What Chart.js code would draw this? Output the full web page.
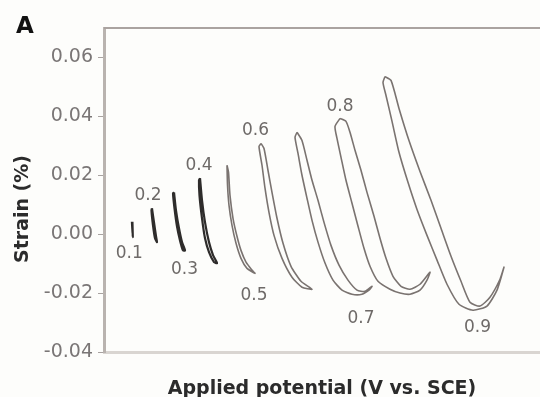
<!DOCTYPE html>
<html>
<head>
<meta charset="utf-8">
<script src="https://cdn.jsdelivr.net/npm/chart.js@4/dist/chart.umd.min.js"></script>
<style>
  html, body { margin: 0; padding: 0; background: #fdfdfb; }
  #c { display: block; }
</style>
</head>
<body>
<canvas id="c" width="540" height="397"></canvas>
<script>
// ---- Data (x: arbitrary time-like position 0..100, y: strain in %) ----
const loop01 = [[6.40,0.0042],[6.60,-0.0010],[6.52,0.0042]];
const loop02 = [[11.00,0.0088],[11.47,0.0040],[11.93,-0.0007],[12.16,-0.0027],[11.70,-0.0014],[11.24,0.0030],[10.89,0.0081],[11.00,0.0088]];
const loop03 = [[16.06,0.0142],[16.51,0.0081],[17.20,0.0020],[17.89,-0.0027],[18.58,-0.0055],[18.12,-0.0055],[17.43,-0.0021],[16.74,0.0027],[16.17,0.0088],[15.83,0.0139],[16.06,0.0142]];
const loop04 = [[22.02,0.0190],[22.48,0.0115],[23.17,0.0040],[24.08,-0.0027],[25.00,-0.0071],[25.92,-0.0098],[25.23,-0.0095],[24.08,-0.0061],[23.17,-0.0014],[22.48,0.0054],[21.90,0.0132],[21.79,0.0183],[22.02,0.0190]];
const loop05 = [[28.21,0.0234],[28.33,0.0166],[28.67,0.0098],[29.36,0.0030],[30.28,-0.0031],[31.42,-0.0082],[32.80,-0.0116],[34.63,-0.0133],[33.94,-0.0122],[32.57,-0.0095],[31.42,-0.0055],[30.50,-0.0007],[29.59,0.0054],[28.90,0.0132],[28.56,0.0210],[28.21,0.0234]];
const loop06 = [[36.01,0.0308],[36.70,0.0291],[37.61,0.0217],[38.53,0.0142],[39.68,0.0054],[41.06,-0.0031],[42.89,-0.0109],[45.18,-0.0160],[47.71,-0.0187],[45.41,-0.0180],[43.12,-0.0146],[40.83,-0.0082],[38.99,-0.0004],[37.84,0.0074],[36.93,0.0156],[36.24,0.0234],[35.55,0.0298],[36.01,0.0308]];
const loop07 = [[44.27,0.0346],[45.41,0.0318],[46.56,0.0251],[47.71,0.0183],[49.08,0.0115],[50.46,0.0040],[52.06,-0.0038],[53.90,-0.0105],[55.96,-0.0156],[58.03,-0.0190],[59.86,-0.0194],[61.47,-0.0177],[60.78,-0.0190],[59.17,-0.0204],[56.88,-0.0204],[54.59,-0.0190],[52.52,-0.0156],[50.69,-0.0098],[49.08,-0.0027],[47.71,0.0047],[46.56,0.0122],[45.41,0.0200],[44.50,0.0274],[43.81,0.0329],[44.27,0.0346]];
const loop08 = [[54.13,0.0393],[55.50,0.0383],[56.42,0.0346],[57.57,0.0285],[58.94,0.0217],[60.32,0.0142],[61.93,0.0061],[63.30,-0.0014],[64.68,-0.0082],[66.28,-0.0143],[68.12,-0.0177],[70.18,-0.0187],[72.48,-0.0170],[74.77,-0.0129],[74.08,-0.0156],[72.48,-0.0190],[70.18,-0.0204],[67.89,-0.0200],[65.60,-0.0187],[62.84,-0.0160],[61.01,-0.0109],[59.63,-0.0048],[58.26,0.0027],[56.88,0.0105],[55.50,0.0183],[54.36,0.0261],[53.44,0.0325],[52.98,0.0366],[54.13,0.0393]];
const loop09 = [[64.45,0.0535],[65.83,0.0522],[67.66,0.0427],[69.95,0.0318],[72.48,0.0213],[75.00,0.0115],[77.29,0.0020],[79.59,-0.0075],[81.88,-0.0160],[83.94,-0.0231],[86.24,-0.0244],[88.53,-0.0214],[90.83,-0.0153],[91.74,-0.0112],[90.14,-0.0190],[87.84,-0.0244],[84.63,-0.0258],[81.42,-0.0238],[78.67,-0.0170],[76.38,-0.0088],[74.08,-0.0004],[71.79,0.0084],[69.72,0.0176],[67.66,0.0278],[66.06,0.0383],[64.68,0.0471],[63.99,0.0515],[64.45,0.0535]];

const loopNames  = ['0.1','0.2','0.3','0.4','0.5','0.6','0.7','0.8','0.9'];
const labelX     = [5.80, 10.09, 18.46, 21.79, 34.40, 34.75, 58.94, 54.13, 85.67];
const labelY     = [-0.0066, 0.0132, -0.0119, 0.0234, -0.0207, 0.0352, -0.0285, 0.0434, -0.0317];
const yTickValues = [-0.04, -0.02, 0.00, 0.02, 0.04, 0.06];
const xTitle = 'Applied potential (V vs. SCE)';
const yTitle = 'Strain (%)';
const panelLetter = 'A';

const loops = [loop01, loop02, loop03, loop04, loop05, loop06, loop07, loop08, loop09];

const datasets = loops.map((lp, i) => ({
  label: loopNames[i],
  data: lp.map(([x, y]) => ({ x, y })),
  showLine: true,
  fill: false,
  pointRadius: 0,
  borderColor: i < 4 ? '#2e2c2b' : '#7a7370',
  borderWidth: i < 4 ? 2.2 : 1.6,
  tension: 0.2
}));

const decorPlugin = {
  id: 'decor',
  beforeDraw(chart) {
    const ctx = chart.ctx;
    ctx.save();
    ctx.fillStyle = '#fdfdfb';
    ctx.fillRect(0, 0, chart.width, chart.height);
    ctx.restore();
  },
  afterDraw(chart) {
    const ctx = chart.ctx;
    const { left, right, top } = chart.chartArea;
    const xs = chart.scales.x, ys = chart.scales.y;
    ctx.save();
    ctx.strokeStyle = '#aaa3a0';
    ctx.lineWidth = 2;
    ctx.beginPath();
    ctx.moveTo(left, top);
    ctx.lineTo(right, top);
    ctx.stroke();
    ctx.fillStyle = '#6e6a68';
    ctx.font = '17px "DejaVu Sans"';
    ctx.textAlign = 'center';
    ctx.textBaseline = 'middle';
    loopNames.forEach((t, i) => {
      ctx.fillText(t, xs.getPixelForValue(labelX[i]), ys.getPixelForValue(labelY[i]));
    });
    ctx.fillStyle = '#2b2b2b';
    ctx.font = 'bold 19px "DejaVu Sans"';
    ctx.translate(23, 209);
    ctx.rotate(-Math.PI / 2);
    ctx.fillText(yTitle, 0, 0);
    ctx.restore();
    ctx.save();
    ctx.fillStyle = '#111';
    ctx.font = 'bold 23px "DejaVu Sans"';
    ctx.textAlign = 'center';
    ctx.textBaseline = 'alphabetic';
    ctx.fillText(panelLetter, 25, 33);
    ctx.restore();
  }
};

new Chart(document.getElementById('c'), {
  type: 'scatter',
  data: { datasets },
  options: {
    responsive: false,
    devicePixelRatio: 1,
    animation: false,
    layout: { padding: { left: 0, right: 0, top: 28, bottom: 0 } },
    plugins: { legend: { display: false }, tooltip: { enabled: false } },
    scales: {
      x: {
        type: 'linear',
        min: 0,
        max: 100,
        ticks: { display: false },
        grid: { display: false, drawTicks: false },
        border: { display: true, color: '#d9d5d1', width: 3 },
        title: {
          display: true,
          text: xTitle,
          color: '#2b2b2b',
          font: { family: 'DejaVu Sans', size: 19, weight: 'bold', lineHeight: 0.8 },
          padding: 0
        },
        afterFit(scale) { scale.height = 45; }
      },
      y: {
        type: 'linear',
        min: -0.04,
        max: 0.07,
        afterBuildTicks(scale) { scale.ticks = yTickValues.map(v => ({ value: v })); },
        ticks: {
          color: '#7a7676',
          font: { family: 'DejaVu Sans', size: 19 },
          padding: 5,
          callback: (v) => Number(v).toFixed(2)
        },
        grid: { display: true, drawOnChartArea: false, drawTicks: true, tickLength: 6, color: '#a8a2a0' },
        border: { display: true, color: '#b9b3af', width: 3 },
        afterFit(scale) { scale.width = 104; }
      }
    }
  },
  plugins: [decorPlugin]
});
</script>
</body>
</html>
